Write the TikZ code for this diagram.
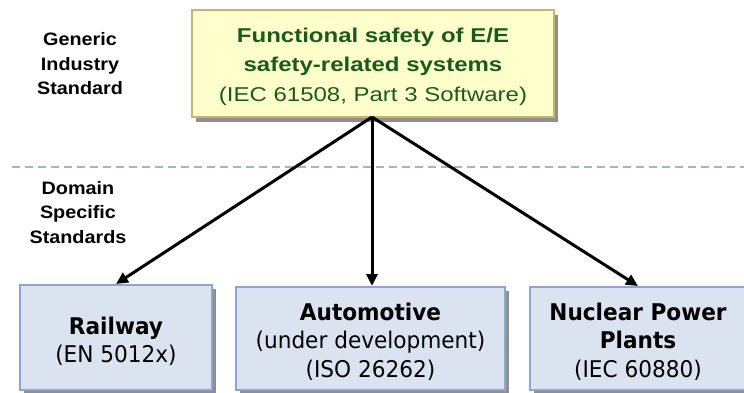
\documentclass[tikz,border=0pt]{standalone}
\usepackage{fontspec}
\setmainfont{Liberation Sans}
\newfontfamily\headfont[FakeStretch=1.2]{Liberation Sans}
\newfontfamily\sidefont[FakeStretch=1.1]{Liberation Sans}
\newfontfamily\boxfont[FakeStretch=0.94]{DejaVu Sans}
\usetikzlibrary{arrows.meta,shadows}

\definecolor{headfill}{HTML}{FFFFCC}
\definecolor{headline}{HTML}{C8B276}
\definecolor{headtext}{HTML}{1B5A1B}
\definecolor{domfill}{HTML}{DCE3F0}
\definecolor{domline}{HTML}{8CA7CE}
\definecolor{sepline}{HTML}{9DB6D5}

\tikzset{
  headbox/.style={draw=headline, line width=1.2pt, fill=headfill,
    drop shadow={shadow xshift=4pt, shadow yshift=-5pt, fill=black!55, opacity=0.8},
    minimum width=362pt, minimum height=107pt, inner sep=0pt},
  headtxt/.style={align=center, text=headtext, inner sep=0pt,
    font=\headfont\fontsize{20}{29.5}\selectfont},
  sidelabel/.style={align=center, inner sep=0pt,
    font=\sidefont\bfseries\fontsize{18}{24.5}\selectfont},
  dombox/.style={draw=domline, line width=2pt, fill=domfill,
    drop shadow={shadow xshift=4pt, shadow yshift=-4pt, fill=black!55, opacity=0.8},
    inner sep=0pt},
  domtxt/.style={align=center, inner sep=0pt,
    font=\boxfont\fontsize{23}{28.5}\selectfont},
  link/.style={line width=3pt, -{Triangle[length=12pt,width=11pt]}},
  separator/.style={draw=sepline, line width=2pt, dash pattern=on 8pt off 5pt}
}

\begin{document}
\begin{tikzpicture}[x=1pt, y=-1pt]
  \useasboundingbox (0,0) rectangle (744,392);
  \clip (0,0) rectangle (744,392);

  % level separator
  \coordinate (sepL) at (12,167);
  \coordinate (sepR) at (744,167);
  \draw[separator] (sepL) -- (sepR);

  % level labels
  \node[sidelabel] (generic) at (80,64) {Generic\\Industry\\Standard};
  \node[sidelabel] (domain) at (78,212.5) {Domain\\Specific\\Standards};

  % generic standard
  \node[headbox] (iec) at (373,63.5) {};
  \node[headtxt] (iectxt) at (373,66.5)
    {\bfseries Functional safety of E/E\\\bfseries safety-related systems\\(IEC 61508, Part 3 Software)};

  % domain standards
  \node[dombox, minimum width=192pt, minimum height=105pt] (rail) at (116,337.5) {};
  \node[dombox, minimum width=269pt, minimum height=103pt] (auto) at (370.5,338.5) {};
  \node[dombox, minimum width=216pt, minimum height=103pt] (nuc) at (638,338.5) {};

  \node[domtxt] (railtxt) at (116,341.5) {\bfseries Railway\\(EN 5012x)};
  \node[domtxt] (autotxt) at (370.5,341.5) {\bfseries Automotive\\(under development)\\(ISO 26262)};
  \node[domtxt] (nuctxt) at (638,341.5) {\bfseries Nuclear Power\\\bfseries Plants\\(IEC 60880)};

  % derivation arrows
  \coordinate (root) at (372,117);
  \draw[link] (root) -- (rail.north);
  \draw[link] (root) -- (auto.north -| root);
  \draw[link] (root) -- (nuc.north);
\end{tikzpicture}
\end{document}
